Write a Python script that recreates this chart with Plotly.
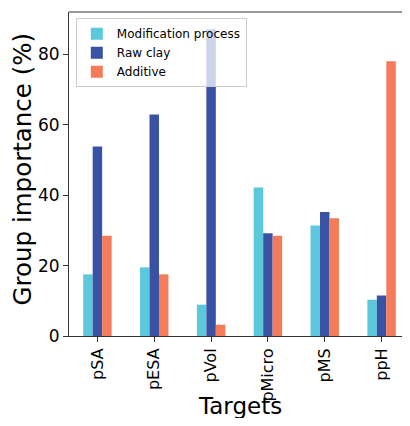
import plotly.graph_objects as go

targets = ["pSA", "pESA", "pVol", "pMicro", "pMS", "ppH"]
modification = [17.5, 19.5, 8.9, 42.2, 31.4, 10.3]
raw_clay = [53.8, 62.9, 87.1, 29.2, 35.2, 11.5]
additive = [28.5, 17.5, 3.2, 28.5, 33.4, 78.0]

colors = {"Modification process": "#5bc8dc", "Raw clay": "#3a52a4", "Additive": "#f47c5a"}

fig = go.Figure()
for name, vals in [("Modification process", modification), ("Raw clay", raw_clay), ("Additive", additive)]:
    fig.add_trace(go.Bar(x=targets, y=vals, name=name, marker=dict(color=colors[name], line=dict(width=0))))

fig.update_layout(
    width=402, height=410,
    margin=dict(l=61, r=0, t=4, b=82),
    barmode="group", bargap=0.5, bargroupgap=0,
    plot_bgcolor="white", paper_bgcolor="white",
    font=dict(family="DejaVu Sans", color="black"),
    showlegend=True,
    legend=dict(x=0.02, y=0.981, xanchor="left", yanchor="top",
                bgcolor="rgba(255,255,255,0.75)", bordercolor="#cccccc", borderwidth=1,
                font=dict(size=12), tracegroupgap=0, itemwidth=30),
    annotations=[
        dict(text="Targets", xref="paper", yref="paper", x=0.5, y=-0.262,
             xanchor="center", yanchor="bottom", showarrow=False, font=dict(size=23)),
        dict(text="Group importance (%)", xref="paper", yref="paper", x=-0.135, y=0.517,
             xanchor="center", yanchor="middle", textangle=-90, showarrow=False, font=dict(size=24.5)),
    ],
    shapes=[dict(type="line", xref="paper", yref="paper", x0=0, x1=1, y0=1, y1=1,
                 line=dict(color="#333333", width=1))],
)
fig.update_xaxes(
    range=[-0.5, 5.5], showline=True, linecolor="#333333", linewidth=1, automargin=False,
    ticks="outside", ticklen=5, tickcolor="#333333", tickangle=-90,
    tickfont=dict(size=16), showgrid=False,
)
fig.update_yaxes(
    range=[0, 92], showline=True, linecolor="#333333", linewidth=1, automargin=False,
    ticks="outside", ticklen=5, tickcolor="#333333",
    tickvals=[0, 20, 40, 60, 80], tickfont=dict(size=17), showgrid=False, zeroline=False,
)
fig.write_html("out.html")
